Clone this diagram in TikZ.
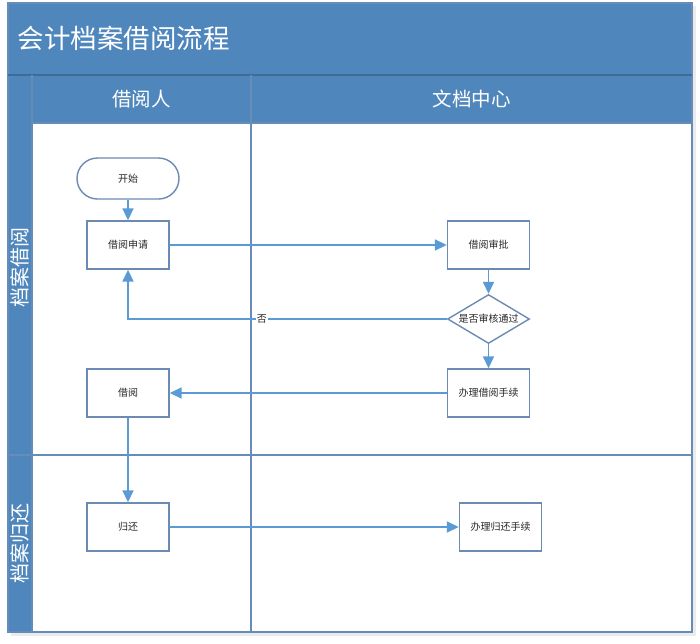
\documentclass[tikz,border=0pt]{standalone}
\usepackage{fontspec}
\setmainfont{Noto Sans CJK SC}
\usetikzlibrary{arrows.meta,shapes.geometric}
\definecolor{band}{RGB}{79,135,189}
\definecolor{frameline}{RGB}{104,140,184}
\definecolor{arrowc}{RGB}{91,155,213}
\definecolor{nodeline}{RGB}{108,139,180}
\definecolor{txt}{RGB}{40,40,40}
\tikzset{
  box/.style={draw=nodeline, line width=1.4pt, fill=white, minimum width=82pt, minimum height=48pt, inner sep=0pt, font=\fontsize{10}{11}\selectfont, text=txt},
  term/.style={box, rounded corners=20.5pt, minimum width=102pt, minimum height=41pt},
  decision/.style={draw=nodeline, line width=1.4pt, fill=white, diamond, aspect=1.67, minimum width=82pt, minimum height=49pt, inner sep=0pt, font=\fontsize{10}{11}\selectfont, text=txt},
  flow/.style={draw=arrowc, line width=1.7pt, -{Triangle[length=12pt,width=11pt]}},
  lane/.style={draw=frameline, line width=1.5pt},
  bandtext/.style={text=white, font=\fontsize{19.5}{21}\selectfont},
}
\begin{document}
\begin{tikzpicture}[x=1pt,y=-1pt]
\useasboundingbox (0,0) rectangle (700,643);
% shadow
\fill[black!8] (11,6) rectangle (696,636);
% frame background
\fill[white] (8,3) rectangle (692,632);
% bands
\fill[band] (8,3) rectangle (692,75);
\fill[band] (8,75) rectangle (692,123);
\fill[band] (8,75) rectangle (32,632);
% lines
\draw[lane] (8,3) rectangle (692,632);
\draw[lane, draw=band!80!black] (8,75) -- (692,75);
\draw[lane] (32,75) -- (32,632);
\draw[lane] (251,75) -- (251,632);
\draw[lane] (32,123) -- (692,123);
\draw[lane] (8,455) -- (692,455);
% texts
\node[text=white, font=\fontsize{26.5}{28}\selectfont, anchor=west] (title) at (14,38) {会计档案借阅流程};
\node[bandtext] (h1) at (141.5,99) {借阅人};
\node[bandtext] (h2) at (471.5,99) {文档中心};
\node[bandtext, rotate=90, font=\fontsize{20}{21}\selectfont] (l1) at (20,267) {档案借阅};
\node[bandtext, rotate=90, font=\fontsize{20}{21}\selectfont] (l2) at (20,543) {档案归还};
% nodes
\node[term] (start) at (128,178.5) {开始};
\node[box] (apply) at (128,245) {借阅申请};
\node[box] (approve) at (488.5,245) {借阅审批};
\node[decision] (dec) at (488.5,319) {是否审核通过};
\node[box] (handle) at (488.5,393) {办理借阅手续};
\node[box] (borrow) at (128,393) {借阅};
\node[box] (ret) at (128,527) {归还};
\node[box] (rethandle) at (500.5,527) {办理归还手续};
% connectors
\draw[flow] (start) -- (apply);
\draw[flow] (apply.east) -- (approve.west);
\draw[flow] (approve) -- (dec);
\draw[flow] (dec.west) -| node[pos=0.29, fill=white, inner sep=1pt, text=txt, font=\fontsize{10}{11}\selectfont] (no) {否} (apply.south);
\draw[flow] (dec) -- (handle);
\draw[flow] (handle.west) -- (borrow.east);
\draw[flow] (borrow) -- (ret);
\draw[flow] (ret.east) -- (rethandle.west);
\end{tikzpicture}
\end{document}
